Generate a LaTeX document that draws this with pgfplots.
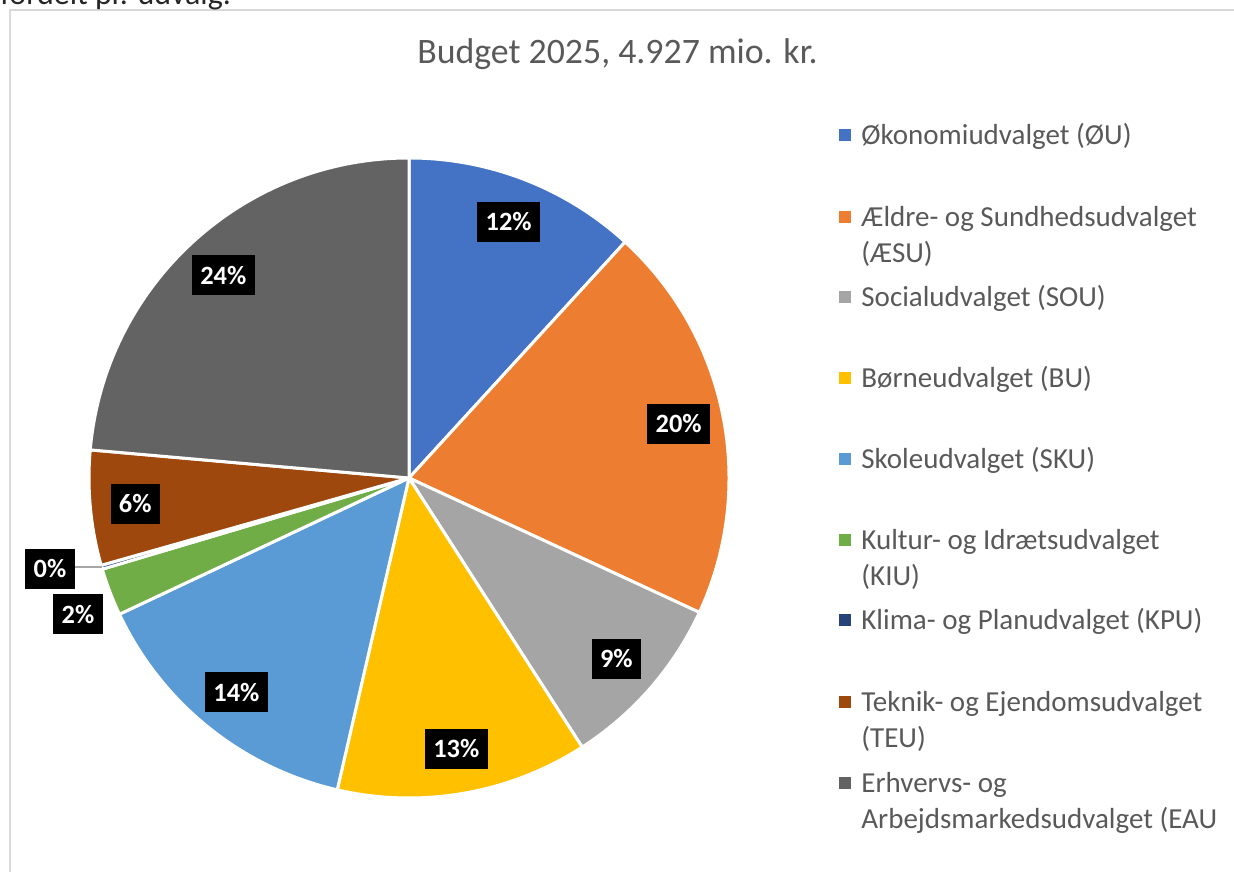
\documentclass[border=0pt]{standalone}
\usepackage{pgfplots}
\pgfplotsset{compat=1.18}
\usepackage{pgfplotstable}
\usepackage{fontspec}
\setmainfont{Carlito}

\definecolor{c0}{HTML}{4472C4}
\definecolor{c1}{HTML}{ED7D31}
\definecolor{c2}{HTML}{A5A5A5}
\definecolor{c3}{HTML}{FFC000}
\definecolor{c4}{HTML}{5B9BD5}
\definecolor{c5}{HTML}{70AD47}
\definecolor{c6}{HTML}{264478}
\definecolor{c7}{HTML}{9E480E}
\definecolor{c8}{HTML}{636363}
\definecolor{TextGray}{HTML}{595959}
\definecolor{FrameGray}{HTML}{D9D9D9}
\definecolor{LeaderGray}{HTML}{A6A6A6}

\tikzset{
    lab/.style={
        fill=black,
        text=white,
        font=\fontsize{13.2}{14}\selectfont\bfseries,
        inner xsep=4.2pt,
        inner ysep=0pt,
        minimum height=20pt
    },
    leg/.style={
        anchor=base west,
        inner sep=0pt,
        align=left,
        text=TextGray,
        font=\fontsize{14.5}{18.25}\selectfont
    }
}

% share of the budget in percent, clockwise from 12 o'clock
\pgfplotstableread{
code share
OU   11.8
AESU 20.1
SOU  9.0
BU   12.7
SKU  14.4
KIU  2.4
KPU  0.2
TEU  5.8
EAU  23.6
}\budget

\begin{document}
\begin{tikzpicture}
    % start / end / mid angle and rounded percent of every slice
    \def\cum{0}
    \pgfplotsforeachungrouped \i in {0,...,8}{%
        \pgfplotstablegetelem{\i}{share}\of\budget
        \let\sh\pgfplotsretval
        \pgfmathsetmacro\sa{90-3.6*\cum}
        \pgfmathsetmacro\ea{90-3.6*(\cum+\sh)}
        \pgfmathsetmacro\ma{(\sa+\ea)/2}
        \pgfmathsetmacro\newcum{\cum+\sh}
        \pgfmathtruncatemacro\pct{round(\sh)}
        \expandafter\xdef\csname sa\i\endcsname{\sa}
        \expandafter\xdef\csname ea\i\endcsname{\ea}
        \expandafter\xdef\csname ma\i\endcsname{\ma}
        \expandafter\xdef\csname pct\i\endcsname{\pct}
        \xdef\cum{\newcum}
    }

    \begin{axis}[
        width=617pt,
        height=435.5pt,
        scale only axis,
        xmin=0, xmax=1234,
        ymin=0, ymax=871,
        hide axis,
        clip=false
    ]

    % frame of the chart area
    \draw[FrameGray, line width=0.8pt]
        (axis cs:10,-20) -- (axis cs:10,861) -- (axis cs:1260,861);

    % cut-off heading above the chart
    \node[anchor=base west, inner sep=0pt, text=black!85,
          font=\fontsize{16}{18}\selectfont]
        at (axis cs:0,866) {fordelt pr. udvalg.};

    % title
    \node[anchor=base, inner sep=0pt, text=TextGray,
          font=\fontsize{17.9}{20}\selectfont]
        at (axis cs:617.5,807) {Budget 2025, 4.927 mio. kr.};

    % ========================================================
    % Slices
    % ========================================================
    \pgfplotsinvokeforeach{0,...,8}{
        \fill[c#1, draw=white, line width=1.5pt, line join=round]
            (axis cs:409,393)
            -- (axis cs:{409+320*cos(\csname sa#1\endcsname)},{393+320*sin(\csname sa#1\endcsname)})
            arc[start angle=\csname sa#1\endcsname,
                end angle=\csname ea#1\endcsname,
                radius=160pt]
            -- cycle;
    }

    % ========================================================
    % Data labels
    % ========================================================
    \pgfplotsinvokeforeach{0,1,2,3,4,7,8}{
        \node[lab] at (axis cs:{409+275*cos(\csname ma#1\endcsname)},{393+275*sin(\csname ma#1\endcsname)})
            {\csname pct#1\endcsname\%};
    }
    \draw[LeaderGray, line width=0.6pt] (axis cs:74,304) -- (axis cs:102,304);
    \node[lab] at (axis cs:50,302) {\csname pct6\endcsname\%};
    \node[lab] at (axis cs:78,256.5) {\csname pct5\endcsname\%};

    % ========================================================
    % Legend
    % ========================================================
    \fill[c0] (axis cs:839,730.3) rectangle (axis cs:851,742.3);
    \fill[c1] (axis cs:839,648.3) rectangle (axis cs:851,660.3);
    \fill[c2] (axis cs:839,568) rectangle (axis cs:851,580);
    \fill[c3] (axis cs:839,487) rectangle (axis cs:851,499);
    \fill[c4] (axis cs:839,406) rectangle (axis cs:851,418);
    \fill[c5] (axis cs:839,325) rectangle (axis cs:851,337);
    \fill[c6] (axis cs:839,245) rectangle (axis cs:851,257);
    \fill[c7] (axis cs:839,163.3) rectangle (axis cs:851,175.3);
    \fill[c8] (axis cs:839,82.3) rectangle (axis cs:851,94.3);

    % multi-line entries are placed by the baseline of their last line
    \node[leg] at (axis cs:861,726.8) {Økonomiudvalget (ØU)};
    \node[leg] at (axis cs:861,608.3) {Ældre- og Sundhedsudvalget\\(ÆSU)};
    \node[leg] at (axis cs:861,564.5) {Socialudvalget (SOU)};
    \node[leg] at (axis cs:861,483.5) {Børneudvalget (BU)};
    \node[leg] at (axis cs:861,402.5) {Skoleudvalget (SKU)};
    \node[leg] at (axis cs:861,285) {Kultur- og Idrætsudvalget\\(KIU)};
    \node[leg] at (axis cs:861,241.5) {Klima- og Planudvalget (KPU)};
    \node[leg] at (axis cs:861,123.3) {Teknik- og Ejendomsudvalget\\(TEU)};
    \node[leg] at (axis cs:861,42.3) {Erhvervs- og\\Arbejdsmarkedsudvalget (EAU};

    \end{axis}
    \pgfresetboundingbox
    \path[use as bounding box] (0,0) rectangle (617pt,435.5pt);
\end{tikzpicture}
\end{document}
